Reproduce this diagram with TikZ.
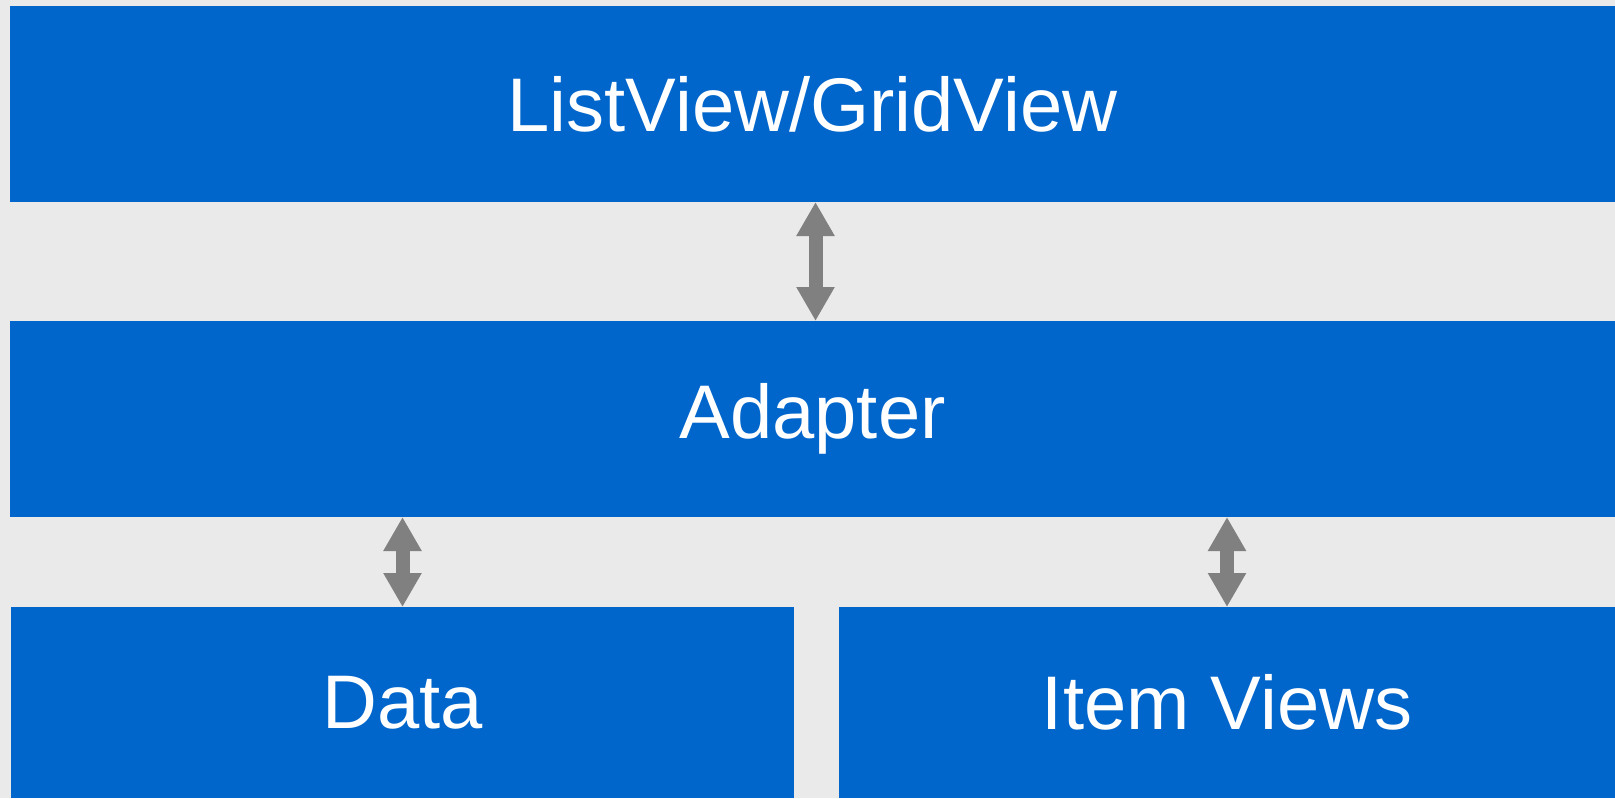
\documentclass[tikz,border=0pt]{standalone}
\usepackage{fontspec}
\setmainfont{Liberation Sans}
\usetikzlibrary{arrows.meta}
\definecolor{boxblue}{HTML}{0066CC}
\definecolor{backgray}{HTML}{EAEAEA}
\definecolor{arrowgray}{HTML}{808080}
\begin{document}
\begin{tikzpicture}[x=0.5pt,y=-0.5pt,
	box/.style={fill=boxblue, draw=none, inner sep=0pt, outer sep=0pt, text=white,
		font=\fontsize{38}{44}\selectfont},
	biarrow/.style={arrowgray, line width=7pt, {Triangle[width=18pt,length=17pt]}-{Triangle[width=18pt,length=17pt]}}]
		\fill[backgray] (0,0) rectangle (1615,798);
		\useasboundingbox (0,0) rectangle (1615,798);
			\node[box, minimum width=802.5pt, minimum height=98pt] (listview) at (812.5,104) {ListView/GridView};
			\node[box, minimum width=802.5pt, minimum height=98pt] (adapter) at (812.5,419) {Adapter};
			\node[box, minimum width=391.5pt, minimum height=95.5pt] (data) at (402.5,702.5) {Data};
			\node[box, minimum width=388pt, minimum height=95.5pt] (itemviews) at (1227,702.5) {Item Views};
%			arrows between the layers
			\draw[biarrow] ([xshift=1.5pt]listview.south) -- ([xshift=1.5pt]adapter.north);
			\draw[biarrow] (adapter.south -| data.north) -- (data.north);
			\draw[biarrow] (adapter.south -| itemviews.north) -- (itemviews.north);
\end{tikzpicture}
\end{document}
